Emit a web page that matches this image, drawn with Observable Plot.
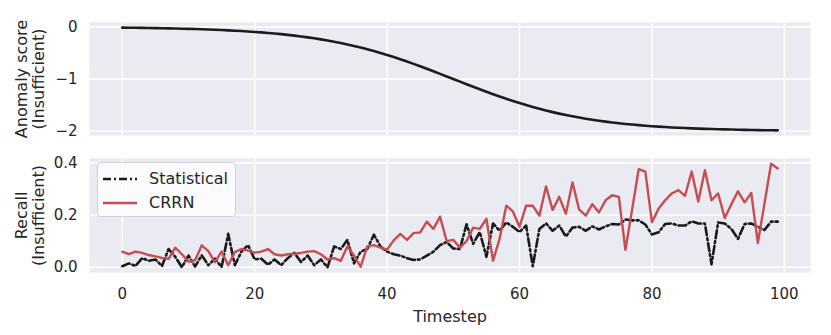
<!DOCTYPE html>
<html>
<head>
<meta charset="utf-8">
<script src="https://cdn.jsdelivr.net/npm/d3@7"></script>
<script src="https://cdn.jsdelivr.net/npm/@observablehq/plot@0.6"></script>
<style>
  html, body { margin: 0; padding: 0; background: #fff; }
  #chart { position: relative; width: 831px; height: 335px; font-family: "DejaVu Sans", sans-serif; }
  #chart svg { display: block; }
  #legend { position: absolute; left: 97px; top: 162px; width: 139px; height: 55px; box-sizing: border-box;
    background: rgba(255,255,255,0.8); border: 1px solid #cfcfd4; border-radius: 4px; font-size: 16px; color: #262626; }
  .row { position: absolute; left: 0; height: 22px; display: flex; align-items: center; }
  .row svg { margin-left: 5px; }
  .row span { margin-left: 12px; line-height: 22px; }
</style>
</head>
<body>
<div id="chart">
  <div id="plots"></div>
  <div id="legend">
    <div class="row" style="top:5px"><svg width="34" height="10"><line x1="0" x2="34" y1="5" y2="5" stroke="#1a1a1a" stroke-width="2.6" stroke-dasharray="8,3,2,3"/></svg><span>Statistical</span></div>
    <div class="row" style="top:29px"><svg width="34" height="10"><line x1="0" x2="34" y1="5" y2="5" stroke="#C44E52" stroke-width="2.4"/></svg><span>CRRN</span></div>
  </div>
</div>
<script>
const timesteps = [0,1,2,3,4,5,6,7,8,9,10,11,12,13,14,15,16,17,18,19,20,21,22,23,24,25,26,27,28,29,
30,31,32,33,34,35,36,37,38,39,40,41,42,43,44,45,46,47,48,49,50,51,52,53,54,55,56,57,58,59,
60,61,62,63,64,65,66,67,68,69,70,71,72,73,74,75,76,77,78,79,80,81,82,83,84,85,86,87,88,89,
90,91,92,93,94,95,96,97,98,99];

const anomalyScore = [-0.013,-0.015,-0.016,-0.018,-0.020,-0.022,-0.024,-0.027,-0.030,-0.033,
-0.036,-0.040,-0.044,-0.048,-0.053,-0.059,-0.065,-0.071,-0.078,-0.086,
-0.095,-0.104,-0.115,-0.126,-0.138,-0.152,-0.166,-0.182,-0.200,-0.218,
-0.238,-0.260,-0.284,-0.309,-0.336,-0.365,-0.396,-0.428,-0.463,-0.500,
-0.538,-0.578,-0.620,-0.664,-0.709,-0.755,-0.803,-0.851,-0.900,-0.950,
-1.000,-1.050,-1.100,-1.149,-1.197,-1.245,-1.291,-1.336,-1.380,-1.422,
-1.462,-1.500,-1.537,-1.572,-1.604,-1.635,-1.664,-1.691,-1.716,-1.740,
-1.762,-1.782,-1.800,-1.818,-1.834,-1.848,-1.862,-1.874,-1.885,-1.896,
-1.905,-1.914,-1.922,-1.929,-1.935,-1.941,-1.947,-1.952,-1.956,-1.960,
-1.964,-1.967,-1.970,-1.973,-1.976,-1.978,-1.980,-1.982,-1.984,-1.985];

const statistical = [0.004,0.015,0.005,0.035,0.025,0.03,0.005,0.07,0.04,0.0,
0.045,0.003,0.046,0.008,0.033,0.001,0.128,0.008,0.06,0.085,
0.03,0.033,0.01,0.03,0.008,0.035,0.055,0.02,0.045,0.008,
0.03,0.0,0.08,0.07,0.105,0.015,0.06,0.07,0.125,0.08,
0.06,0.05,0.045,0.035,0.028,0.03,0.045,0.06,0.085,0.097,
0.072,0.07,0.165,0.09,0.135,0.04,0.168,0.14,0.172,0.155,
0.135,0.16,0.004,0.147,0.168,0.14,0.16,0.118,0.152,0.155,
0.14,0.157,0.145,0.157,0.166,0.164,0.183,0.18,0.18,0.164,
0.126,0.134,0.166,0.168,0.16,0.16,0.176,0.168,0.168,0.011,
0.172,0.168,0.147,0.109,0.166,0.168,0.155,0.143,0.175,0.175];

const crrn = [0.06,0.05,0.06,0.055,0.047,0.042,0.036,0.032,0.075,0.05,
0.022,0.027,0.084,0.062,0.02,0.06,0.008,0.058,0.07,0.064,
0.056,0.06,0.07,0.05,0.045,0.05,0.052,0.055,0.06,0.062,
0.05,0.03,0.035,0.025,0.08,0.045,0.002,0.08,0.085,0.075,
0.068,0.103,0.128,0.105,0.131,0.134,0.175,0.147,0.194,0.10,
0.105,0.075,0.10,0.152,0.147,0.186,0.025,0.11,0.236,0.214,
0.155,0.236,0.236,0.198,0.31,0.22,0.27,0.205,0.325,0.222,
0.198,0.242,0.21,0.257,0.276,0.27,0.067,0.22,0.376,0.367,
0.173,0.224,0.257,0.283,0.296,0.274,0.367,0.252,0.372,0.257,
0.283,0.189,0.242,0.291,0.249,0.285,0.093,0.245,0.397,0.379];

const xTicks = [0, 20, 40, 60, 80, 100];
const topYTicks = [-2, -1, 0];
const bottomYTicks = [0.0, 0.2, 0.4];
const topLabel = "Anomaly score\n(Insufficient)";
const bottomLabel = "Recall\n(Insufficient)";
const xLabel = "Timestep";

const bg = "#EAEAF2";
const ink = "#262626";
const xDomain = [-4.95, 103.95];
const gridStyle = {stroke: "white", strokeOpacity: 1, strokeWidth: 1.4};
const baseStyle = {fontFamily: "DejaVu Sans, sans-serif", fontSize: "15px", color: ink, background: "white", overflow: "visible"};

const topData = timesteps.map((t, i) => ({t, v: anomalyScore[i]}));
const recallData = timesteps.flatMap((t, i) => [
  {t, v: statistical[i], s: "Statistical"},
  {t, v: crrn[i], s: "CRRN"}
]);

const topPlot = Plot.plot({
  width: 831, height: 140,
  marginLeft: 89, marginRight: 21, marginTop: 22, marginBottom: 5,
  style: baseStyle,
  x: {domain: xDomain, axis: null},
  y: {domain: [-2.084, 0.086], ticks: topYTicks, tickSize: 0, tickPadding: 12, label: null,
      tickFormat: d => d < 0 ? "\u2212" + Math.abs(d) : String(d)},
  marks: [
    Plot.frame({fill: bg, stroke: null}),
    Plot.gridX(xTicks, gridStyle),
    Plot.gridY(topYTicks, gridStyle),
    Plot.line(topData, {x: "t", y: "v", stroke: "#1c1c1c", strokeWidth: 2.6}),
    Plot.text([topLabel], {frameAnchor: "left", dx: -59, rotate: -90, textAnchor: "middle", lineAnchor: "middle",
      lineHeight: 1.05, fontSize: 16, fill: ink})
  ]
});

const bottomPlot = Plot.plot({
  width: 831, height: 195,
  marginLeft: 89, marginRight: 21, marginTop: 18, marginBottom: 63,
  style: baseStyle,
  x: {domain: xDomain, ticks: xTicks, tickSize: 0, tickPadding: 16, label: null},
  y: {domain: [-0.02, 0.417], ticks: bottomYTicks, tickSize: 0, tickPadding: 12, label: null,
      tickFormat: d3.format(".1f")},
  marks: [
    Plot.frame({fill: bg, stroke: null}),
    Plot.gridX(xTicks, gridStyle),
    Plot.gridY(bottomYTicks, gridStyle),
    Plot.line(recallData.filter(d => d.s === "Statistical"), {x: "t", y: "v", stroke: "#1a1a1a", strokeWidth: 2.6,
      strokeDasharray: "8,3,2,3"}),
    Plot.line(recallData.filter(d => d.s === "CRRN"), {x: "t", y: "v", stroke: "#C44E52", strokeWidth: 2.4}),
    Plot.text([bottomLabel], {frameAnchor: "left", dx: -59, rotate: -90, textAnchor: "middle", lineAnchor: "middle",
      lineHeight: 1.05, fontSize: 16, fill: ink}),
    Plot.text([xLabel], {frameAnchor: "bottom", dy: 44, textAnchor: "middle", lineAnchor: "middle", fontSize: 16, fill: ink})
  ]
});

const holder = document.getElementById("plots");
holder.appendChild(topPlot);
holder.appendChild(bottomPlot);
</script>
</body>
</html>
